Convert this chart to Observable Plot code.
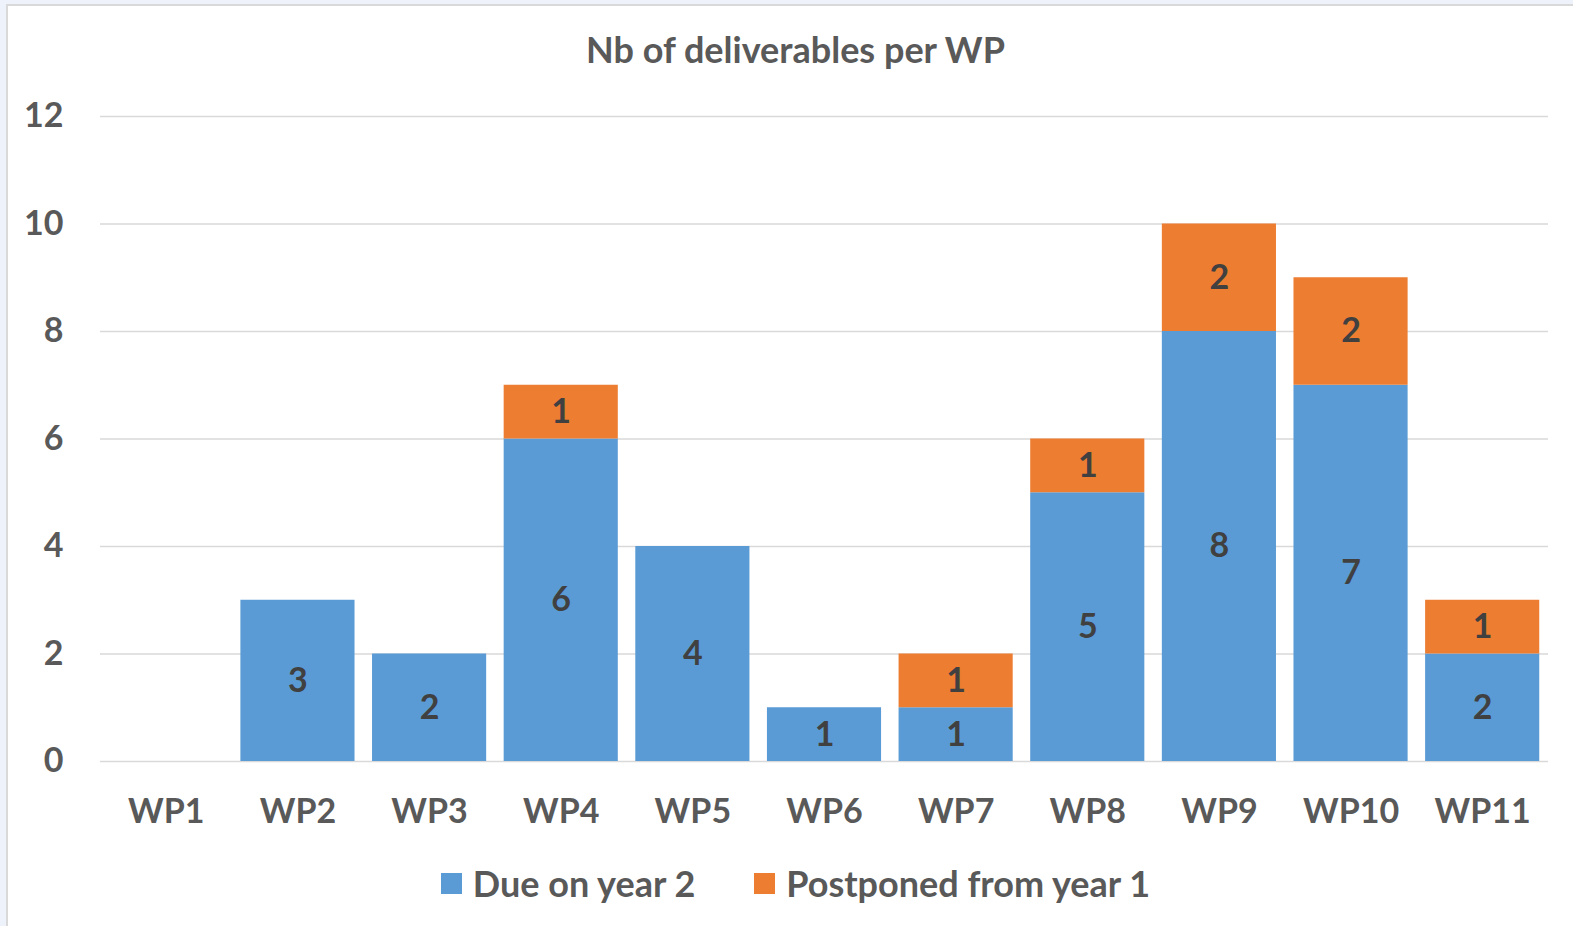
<!DOCTYPE html>
<html>
<head>
<meta charset="utf-8">
<script src="https://cdn.jsdelivr.net/npm/d3@7"></script>
<script src="https://cdn.jsdelivr.net/npm/@observablehq/plot@0.6"></script>
<style>
  html, body { margin: 0; padding: 0; background: #eef3fb; width: 1573px; height: 926px; overflow: hidden; }
  #frame { position: absolute; left: 6px; top: 4px; width: 1600px; height: 960px; background: #fff; border: 2px solid #d9d9d9; box-sizing: border-box; }
  #title { position: absolute; left: 0; width: 1591px; top: 27px; text-align: center; font-family: Lato, sans-serif; font-weight: 700; font-size: 36px; line-height: 44px; color: #595959; }
  #chart { position: absolute; left: 0; top: 80px; }
  #legend { position: absolute; left: 0; width: 1591px; top: 861px; height: 44px; display: flex; justify-content: center; align-items: center; font-family: Lato, sans-serif; font-weight: 700; font-size: 36px; color: #595959; }
  .sw { display: inline-block; width: 21px; height: 21px; margin-right: 11px; }
  .item { display: flex; align-items: center; }
</style>
</head>
<body>
<div id="frame"></div>
<div id="title">Nb of deliverables per WP</div>
<div id="chart"></div>
<div id="legend"></div>
<script>
const categories = ["WP1","WP2","WP3","WP4","WP5","WP6","WP7","WP8","WP9","WP10","WP11"];
const dueYear2 = [0,3,2,6,4,1,1,5,8,7,2];
const postponedYear1 = [0,0,0,1,0,0,1,1,2,2,1];
const seriesNames = ["Due on year 2", "Postponed from year 1"];
const seriesColors = ["#5b9bd5", "#ed7d31"];
const yTicks = [0,2,4,6,8,10,12];

const data = [];
categories.forEach((c, i) => {
  data.push({wp: c, series: seriesNames[0], value: dueYear2[i]});
  data.push({wp: c, series: seriesNames[1], value: postponedYear1[i]});
});

const font = "Lato, sans-serif";
const plot = Plot.plot({
  width: 1573,
  height: 770,
  marginTop: 36,
  marginBottom: 89,
  marginLeft: 100,
  marginRight: 25,
  style: { fontFamily: font, background: "transparent", overflow: "visible" },
  x: { domain: categories, paddingInner: 0.133, paddingOuter: 0.0665, round: false, label: null },
  y: { domain: [0, 12], ticks: yTicks, label: null },
  color: { domain: seriesNames, range: seriesColors },
  marks: [
    Plot.gridY(yTicks, { stroke: "#d9d9d9", strokeOpacity: 1, strokeWidth: 1.5 }),
    Plot.barY(data, { x: "wp", y: "value", fill: "series", order: seriesNames }),
    Plot.text(data, Plot.stackY({
      x: "wp", y: "value", z: "series", order: seriesNames,
      text: d => d.value > 0 ? String(d.value) : "",
      fill: "#404040", fontSize: 34, fontWeight: 700
    })),
    Plot.axisY({ ticks: yTicks, tickSize: 0, tickPadding: 37, fontSize: 34, fontWeight: 700, fill: "#595959", label: null }),
    Plot.axisX({ tickSize: 0, tickPadding: 37, fontSize: 34, fontWeight: 700, fill: "#595959", label: null })
  ]
});
document.getElementById("chart").appendChild(plot);

const legend = document.getElementById("legend");
seriesNames.forEach((s, i) => {
  const item = document.createElement("div");
  item.className = "item";
  if (i > 0) item.style.marginLeft = "59px";
  const sw = document.createElement("span");
  sw.className = "sw";
  sw.style.background = seriesColors[i];
  item.appendChild(sw);
  const t = document.createElement("span");
  t.textContent = s;
  item.appendChild(t);
  legend.appendChild(item);
});
</script>
</body>
</html>
